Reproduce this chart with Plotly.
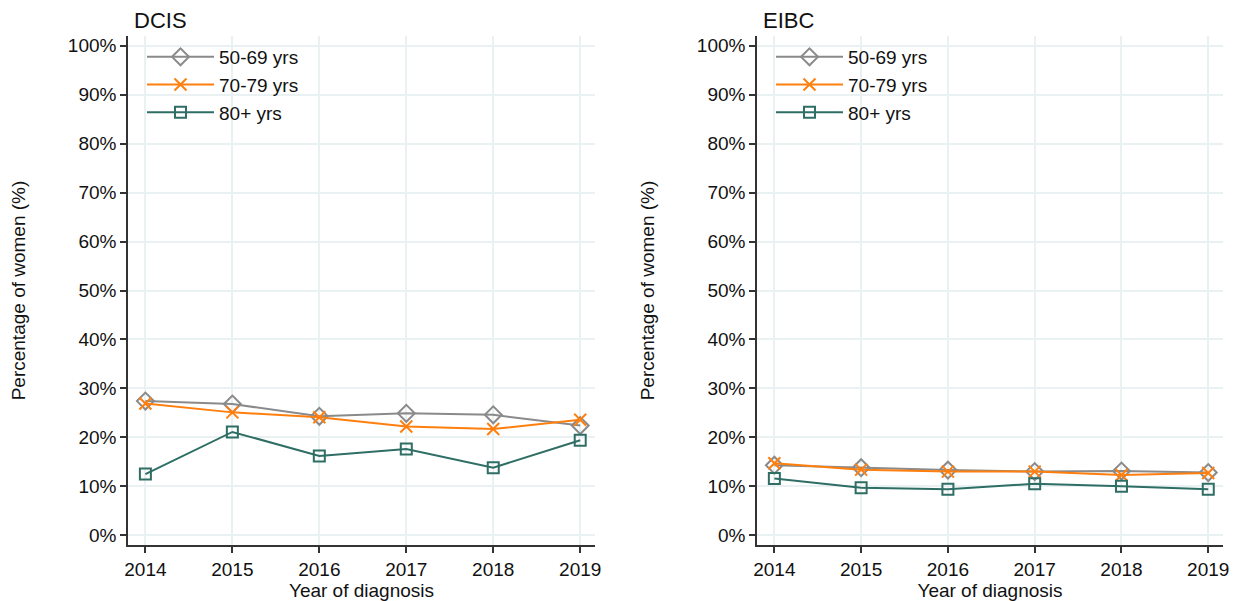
import plotly.graph_objects as go

# Data (percentage of women)
years = [2014, 2015, 2016, 2017, 2018, 2019]
groups = ["50-69 yrs", "70-79 yrs", "80+ yrs"]

dcis_50_69 = [27.4, 26.8, 24.3, 24.9, 24.6, 22.4]
dcis_70_79 = [26.9, 25.1, 24.1, 22.2, 21.7, 23.6]
dcis_80_plus = [12.5, 21.1, 16.2, 17.6, 13.8, 19.4]

eibc_50_69 = [14.3, 13.8, 13.3, 13.0, 13.1, 12.8]
eibc_70_79 = [14.7, 13.4, 13.0, 13.0, 12.3, 12.7]
eibc_80_plus = [11.6, 9.7, 9.4, 10.5, 10.0, 9.4]

y_ticks = list(range(0, 101, 10))
y_labels = [f"{v}%" for v in y_ticks]

colors = ["#8a8a8a", "#ff7f0e", "#2e6e64"]
symbols = ["diamond-open", "x-thin", "square-open"]
sizes = [13, 12, 11]

FONT = "Liberation Sans, Arial, sans-serif"
GRID = "#e9f1f3"

panels = [
    ("DCIS", [dcis_50_69, dcis_70_79, dcis_80_plus], "x", "y", "legend"),
    ("EIBC", [eibc_50_69, eibc_70_79, eibc_80_plus], "x2", "y2", "legend2"),
]

fig = go.Figure()

for title, series, xa, ya, leg in panels:
    for name, vals, col, sym, sz in zip(groups, series, colors, symbols, sizes):
        fig.add_trace(go.Scatter(
            x=years, y=vals, name=name, mode="lines+markers",
            xaxis=xa, yaxis=ya, legend=leg,
            line=dict(color=col, width=2),
            marker=dict(symbol=sym, size=sz, color=col,
                        line=dict(color=col, width=2)),
        ))

W, H = 1237, 601
# plot area pixel boxes (left, right) and (top, bottom)
x_dom = [(128 / W, 595 / W), (757 / W, 1223 / W)]
y_dom = (1 - 545 / H, 1 - 36 / H)

axis_common = dict(
    showline=True, linecolor="#333333", linewidth=1.5,
    ticks="outside", ticklen=6, tickwidth=1.5, tickcolor="#333333",
    showgrid=True, gridcolor=GRID, gridwidth=2, zeroline=False,
    tickfont=dict(size=19, color="#111111", family=FONT),
    automargin=False,
)

layout = dict(
    width=W, height=H,
    margin=dict(l=0, r=0, t=0, b=0),
    plot_bgcolor="white", paper_bgcolor="white",
    font=dict(family=FONT, size=19, color="#111111"),
)

for i, (title, series, xa, ya, leg) in enumerate(panels):
    xk = "xaxis" if i == 0 else "xaxis2"
    yk = "yaxis" if i == 0 else "yaxis2"
    layout[xk] = dict(
        axis_common, domain=list(x_dom[i]), anchor=ya,
        range=[2013.8, 2019.17], tickmode="array", tickvals=years,
        title=dict(text="Year of diagnosis", standoff=0,
                   font=dict(size=19, family=FONT)),
    )
    layout[yk] = dict(
        axis_common, domain=list(y_dom), anchor=xa,
        range=[-2.0, 102.0], tickmode="array", tickvals=y_ticks,
        ticktext=y_labels,
        title=dict(text="Percentage of women (%)", standoff=37,
                   font=dict(size=19, family=FONT)),
    )
    layout[leg] = dict(
        x=x_dom[i][0] + 14 / W, y=y_dom[1] - 2 / H,
        xanchor="left", yanchor="top",
        bgcolor="rgba(0,0,0,0)",
        font=dict(size=19, family=FONT, color="#111111"),
        itemwidth=67,
    )

fig.update_layout(**layout)

for i, (title, *_rest) in enumerate(panels):
    fig.add_annotation(
        text=title, xref="paper", yref="paper",
        x=x_dom[i][0] + 4 / W, y=1 - 6 / H,
        xanchor="left", yanchor="top", showarrow=False,
        font=dict(size=22, family=FONT, color="#111111"),
    )

fig.write_html("out.html", config={"displayModeBar": False},
               post_script="document.body.style.margin='0';")
